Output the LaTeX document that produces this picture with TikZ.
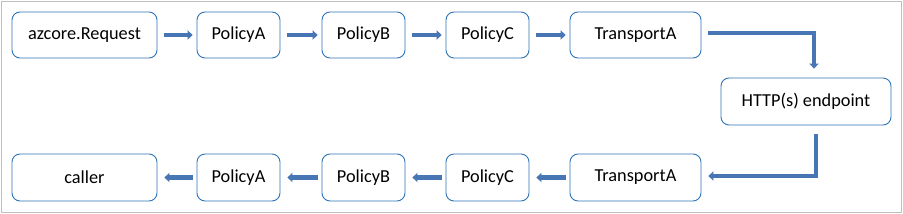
\documentclass[tikz,border=0pt]{standalone}
\usepackage{fontspec}
\setmainfont{Carlito}
\usetikzlibrary{arrows.meta}
\definecolor{boxline}{RGB}{46,117,182}
\definecolor{arrowfill}{RGB}{72,118,180}
\definecolor{frame}{RGB}{191,191,191}
\begin{document}
\begin{tikzpicture}[x=1pt,y=-1pt,
  box/.style={draw=boxline,line width=0.9pt,rounded corners=8pt,minimum height=46pt,inner sep=0pt,font=\fontsize{18.3}{22}\selectfont,fill=white},
  flow/.style={draw=arrowfill,line width=4.6pt,-{Triangle[width=9.5pt,length=5pt]}}]
\useasboundingbox (0,0) rectangle (903,214);
\draw[frame,line width=1pt] (1,1) rectangle (901.5,212.5);
% top row
\node[box,minimum width=145pt] (req) at (84.5,35) {azcore.Request};
\node[box,minimum width=83pt] (pa1) at (238.5,35) {PolicyA};
\node[box,minimum width=83pt] (pb1) at (363.5,35) {PolicyB};
\node[box,minimum width=83pt] (pc1) at (487.5,35) {PolicyC};
\node[box,minimum width=131pt] (ta1) at (635.5,35) {TransportA};
% endpoint
\node[box,minimum width=170pt,minimum height=47pt] (http) at (806,101.5) {HTTP(s) endpoint};
% bottom row
\node[box,minimum width=145pt,minimum height=47pt] (caller) at (84.5,177.5) {caller};
\node[box,minimum width=83pt,minimum height=47pt] (pa2) at (238.5,177.5) {PolicyA};
\node[box,minimum width=83pt,minimum height=47pt] (pb2) at (363.5,177.5) {PolicyB};
\node[box,minimum width=83pt,minimum height=47pt] (pc2) at (487.5,177.5) {PolicyC};
\node[box,minimum width=131pt,minimum height=47pt] (ta2) at (635.5,177.5) {TransportA};
% top arrows
\foreach \a/\b in {req/pa1,pa1/pb1,pb1/pc1,pc1/ta1}
  \draw[flow,shorten <=7pt,shorten >=4pt] (\a.east) -- (\b.west);
\draw[flow] ([xshift=7pt,yshift=2pt]ta1.east) -| ([xshift=8pt,yshift=9pt]http.north);
\draw[flow] ([xshift=10pt,yshift=-9pt]http.south) |- ([xshift=7pt,yshift=1.5pt]ta2.east);
% bottom arrows
\foreach \a/\b in {ta2/pc2,pc2/pb2,pb2/pa2,pa2/caller}
  \draw[flow,shorten <=4pt,shorten >=7pt] (\a.west) -- (\b.east);
\end{tikzpicture}
\end{document}
